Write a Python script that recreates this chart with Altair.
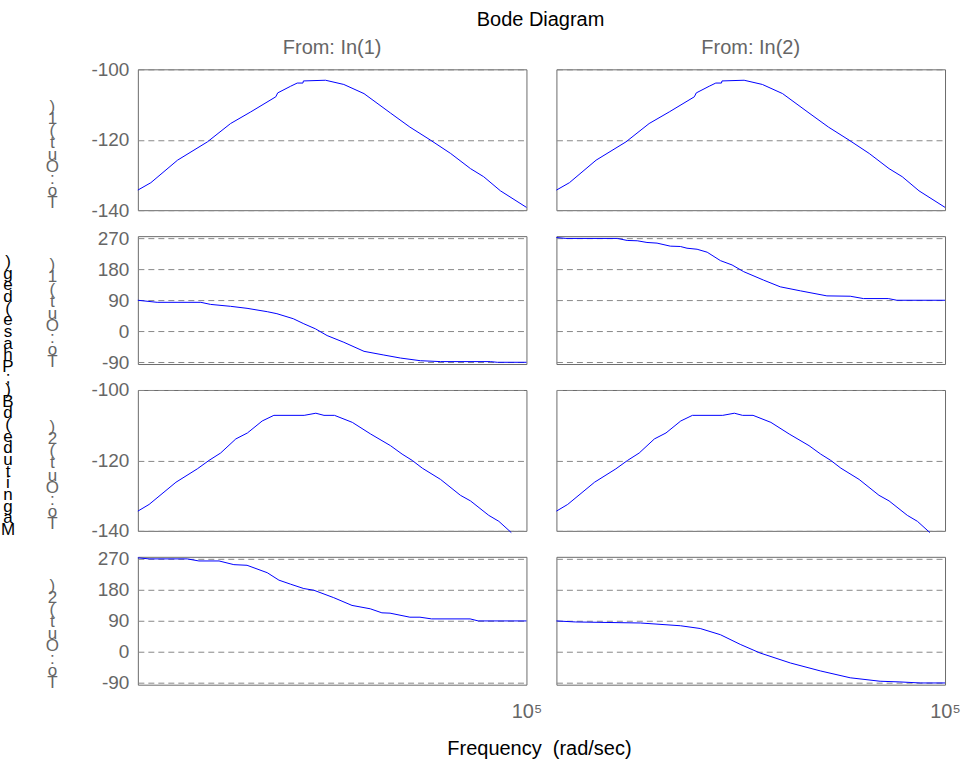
import altair as alt
import pandas as pd

FONT = "Liberation Sans"
GRAY = "#666666"
GRID = "#888888"
BORDER = "#6b6b6b"
BLUE = "#0000ff"

# ---- data ----
# Out(1) magnitude (same curve for In(1) and In(2))
mag_out1_freq = [10, 13.6, 25.6, 52, 90, 145, 263, 275, 374, 437, 500, 506, 855,
                 1318, 2128, 3981, 6310, 10280, 16600, 26550, 36300, 53950, 100000]
mag_out1_db = [-134.3, -132.2, -125.8, -120.6, -115.4, -112.1, -107.8, -106.7, -104.8,
               -103.9, -103.9, -103.3, -103.1, -104.3, -106.9, -112.4, -116.4, -120.1,
               -123.9, -128.2, -130.5, -134.5, -139.2]

# Out(1) phase, In(1)
ph_out1_in1_freq = [10, 15.8, 44.5, 56, 90, 133, 215, 270, 398, 511, 673, 887, 1318,
                    2128, 3404, 5058, 8091, 13060, 42460, 50120, 100000]
ph_out1_in1_deg = [90, 84, 84, 78, 72.4, 66.6, 56.8, 51, 36.4, 21.8, 7.1, -12.4, -31.9,
                   -58.2, -68.9, -77.7, -85.4, -88, -88, -90, -90]

# Out(1) phase, In(2)
ph_out1_in2_freq = [10, 12.5, 42.5, 53.5, 67.9, 85.5, 108.6, 148.6, 188.8, 220.8, 280.5,
                    356.5, 487.5, 642.7, 847.2, 1355, 2014, 3251, 6081, 10570, 14450,
                    26060, 31920, 100000]
ph_out1_in2_deg = [272, 269.4, 269.4, 263.5, 262.6, 257.7, 255.8, 247, 246, 241, 238,
                   229.4, 205, 192.4, 172.9, 148.5, 129, 117.3, 102.7, 101.7, 94.9,
                   94.9, 90, 90]

# Out(2) magnitude (same curve for In(1) and In(2))
mag_out2_freq = [10, 13.06, 24.66, 40.9, 54, 71.1, 101.9, 134.3, 190.5, 251.2, 515.2,
                 679.2, 824.1, 1057, 1614, 2489, 3981, 5248, 6668, 8472, 13060, 20890,
                 26550, 40930, 52000, 69820]
mag_out2_db = [-134.4, -132.5, -126.2, -122.4, -120.0, -117.9, -113.9, -112.2, -108.8,
               -107.2, -107.2, -106.6, -107.2, -107.2, -109.2, -112.5, -115.8, -118.2,
               -120.0, -122.2, -125.4, -129.9, -131.5, -135.6, -137.3, -140.5]

# Out(2) phase, In(1)
ph_out2_in1_freq = [10, 13.06, 32.2, 42.5, 68.5, 97.3, 133, 214.8, 283.1, 373.3, 510.5,
                    648.6, 1038, 1600, 2466, 3251, 3945, 6310, 8017, 10570, 26300,
                    31920, 100000]
ph_out2_in1_deg = [273, 270, 270, 264, 264, 253.3, 251.4, 229.9, 208.3, 196.6, 183.9,
                   179, 157.5, 135, 125.2, 113.5, 112.5, 100.8, 100.8, 95.9, 95.9, 90, 90]

# Out(2) phase, In(2)
ph_out2_in2_freq = [10, 15.7, 73.1, 188.8, 302, 487.5, 779.8, 1247, 2559, 5200, 10570,
                    21480, 34360, 55460, 100000]
ph_out2_in2_deg = [90, 87, 84, 76, 68, 50, 22, -3, -32, -55, -75, -85, -87, -90, -90]

mag_ticks = [-140, -120, -100]
phase_ticks = [-90, 0, 90, 180, 270]
x_tick_values = [100000]

col_titles = ["From: In(1)", "From: In(2)"]
row_labels = ["To: Out(1)", "To: Out(2)"]
side_label = "Magnitude (dB) ; Phase (deg)"
main_title = "Bode Diagram"
x_title = "Frequency\u00a0 (rad/sec)"

# ---- layout ----
W = 389
H_MAG = 141
H_PH = 128
MAG_DOMAIN = [-140, -100]
PH_DOMAIN = [-95, 276]
FS_TICK = 19
FS_TITLE = 20
FS_STACK = 17
STACK_LH = 12.1
SIDE_LH = 11.65


def stacked(s):
    # glyphs drawn upright, one above the other, read from bottom to top
    return [c for c in reversed(list(s)) if c != " "]


def panel(freq, vals, kind, left, bottom, top_title=None, row_label=None,
          xtitle=False, extra=None, title_offset=2):
    h = H_MAG if kind == "mag" else H_PH
    dom = MAG_DOMAIN if kind == "mag" else PH_DOMAIN
    ticks = mag_ticks if kind == "mag" else phase_ticks
    df = pd.DataFrame({"freq": freq, "val": vals})

    if bottom:
        xkw = dict(values=x_tick_values,
                   labelExpr="datum.value == 100000 ? '10\u2075' : ''",
                   labelFlush=False, labelFont=FONT, labelFontSize=FS_TITLE,
                   labelColor=GRAY, labelPadding=17, labelAlign="center",
                   ticks=False, domain=False, grid=False)
        if xtitle:
            xkw.update(title=x_title, titleX=401.5, titleY=70, titleAlign="center",
                       titleBaseline="alphabetic", titleFont=FONT,
                       titleFontSize=FS_TITLE, titleFontWeight="normal",
                       titleColor="black")
        else:
            xkw.update(title=None)
        xaxis = alt.Axis(**xkw)
    else:
        xaxis = None

    ykw = dict(values=ticks, grid=True, gridDash=[6, 4], gridColor=GRID,
               gridWidth=1, ticks=False, domain=False)
    if left:
        lines = stacked(row_label)
        last_base = h - 2 if kind == "mag" else h + 3
        ykw.update(labelFont=FONT, labelFontSize=FS_TICK, labelColor=GRAY,
                   labelExpr="'' + datum.value",
                   labelPadding=9, title=lines, titleAngle=0,
                   titleAlign="center", titleBaseline="top", titleX=-86,
                   titleY=last_base - 0.79 * FS_STACK - (len(lines) - 1) * STACK_LH,
                   titleLineHeight=STACK_LH, titleFont=FONT,
                   titleFontSize=FS_STACK, titleFontWeight="normal", titleColor=GRAY)
    else:
        ykw.update(labels=False, title=None)

    line = alt.Chart(df).mark_line(color=BLUE, strokeWidth=1).encode(
        x=alt.X("freq:Q", scale=alt.Scale(type="log", domain=[10, 100000], nice=False),
                axis=xaxis),
        y=alt.Y("val:Q", scale=alt.Scale(domain=dom, nice=False, zero=False),
                axis=alt.Axis(**ykw)),
    )
    ch = line
    if extra is not None:
        ch = alt.layer(line, extra)
    props = dict(width=W, height=h)
    if top_title:
        props["title"] = alt.TitleParams(top_title, font=FONT, fontSize=FS_TITLE,
                                         fontWeight="normal", color=GRAY,
                                         anchor="middle", frame="group",
                                         offset=title_offset)
    return ch.properties(**props)


side_lines = stacked(side_label)
side_df = pd.DataFrame({"t": ["\n".join(side_lines)]})
side_text = alt.Chart(side_df).mark_text(
    font=FONT, fontSize=FS_STACK, color="black", align="center", baseline="top",
    lineBreak="\n", lineHeight=SIDE_LH,
).encode(text="t:N", x=alt.value(-130), y=alt.value(18))

panels = [
    panel(mag_out1_freq, mag_out1_db, "mag", True, False, col_titles[0], row_labels[0]),
    panel(mag_out1_freq, mag_out1_db, "mag", False, False, col_titles[1],
          title_offset=11),
    panel(ph_out1_in1_freq, ph_out1_in1_deg, "ph", True, False, None, row_labels[0],
          extra=side_text),
    panel(ph_out1_in2_freq, ph_out1_in2_deg, "ph", False, False),
    panel(mag_out2_freq, mag_out2_db, "mag", True, False, None, row_labels[1]),
    panel(mag_out2_freq, mag_out2_db, "mag", False, False),
    panel(ph_out2_in1_freq, ph_out2_in1_deg, "ph", True, True, None, row_labels[1],
          xtitle=True),
    panel(ph_out2_in2_freq, ph_out2_in2_deg, "ph", False, True),
]

chart = alt.concat(
    *panels, columns=2, spacing={"row": 26, "column": 30}, bounds="flush",
    title=alt.TitleParams(main_title, font=FONT, fontSize=FS_TITLE, fontWeight="normal",
                          color="black", anchor="middle", offset=8, dx=60),
).properties(
    padding={"left": 0, "top": 9, "right": 0, "bottom": 5}
).configure_view(stroke=BORDER, strokeWidth=1)

chart.save("out.html", embed_options={"renderer": "svg", "actions": False})
